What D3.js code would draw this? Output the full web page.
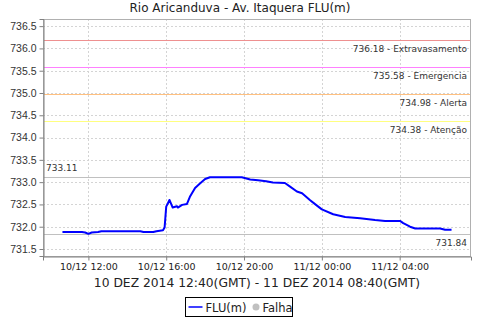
<!DOCTYPE html>
<html>
<head>
<meta charset="utf-8">
<script src="https://cdn.jsdelivr.net/npm/d3@7"></script>
<style>
  body { margin: 0; background: #fff; }
  svg { display: block; font-family: "DejaVu Sans", sans-serif; }
</style>
</head>
<body>
<div id="chart"></div>
<script>
const width = 480;
const height = 320;

// leituras (hora local, GMT-2)
const times = [
    "2014-12-10 10:40", "2014-12-10 11:40", "2014-12-10 11:50", "2014-12-10 12:00",
    "2014-12-10 12:10", "2014-12-10 12:30", "2014-12-10 12:40", "2014-12-10 14:40",
    "2014-12-10 14:50", "2014-12-10 15:20", "2014-12-10 15:30", "2014-12-10 15:50",
    "2014-12-10 15:55", "2014-12-10 16:00", "2014-12-10 16:05", "2014-12-10 16:10",
    "2014-12-10 16:20", "2014-12-10 16:33", "2014-12-10 16:36", "2014-12-10 16:49",
    "2014-12-10 17:04", "2014-12-10 17:13", "2014-12-10 17:29", "2014-12-10 17:44",
    "2014-12-10 18:00", "2014-12-10 18:15", "2014-12-10 19:53", "2014-12-10 20:19",
    "2014-12-10 20:43", "2014-12-10 21:08", "2014-12-10 21:29", "2014-12-10 22:06",
    "2014-12-10 22:22", "2014-12-10 22:43", "2014-12-10 22:59", "2014-12-10 23:23",
    "2014-12-10 23:42", "2014-12-11 00:00", "2014-12-11 00:35", "2014-12-11 01:12",
    "2014-12-11 01:58", "2014-12-11 02:44", "2014-12-11 03:15", "2014-12-11 04:01",
    "2014-12-11 04:11", "2014-12-11 04:32", "2014-12-11 04:48", "2014-12-11 06:05",
    "2014-12-11 06:20", "2014-12-11 06:40"
];
const levels = [
    731.88, 731.88, 731.87, 731.84,
    731.87, 731.88, 731.90, 731.90,
    731.88, 731.88, 731.90, 731.92,
    731.98, 732.45, 732.52, 732.60,
    732.43, 732.46, 732.43, 732.49,
    732.51, 732.67, 732.87, 732.97,
    733.07, 733.11, 733.11, 733.06,
    733.04, 733.02, 732.99, 732.98,
    732.90, 732.79, 732.75, 732.60,
    732.49, 732.39, 732.28, 732.22,
    732.19, 732.15, 732.13, 732.13,
    732.08, 732.00, 731.96, 731.96,
    731.93, 731.93
];

const alertValues = [736.18, 735.58, 734.98, 734.38];
const alertNames = ["Extravasamento", "Emergencia", "Alerta", "Atenção"];
const alertColors = ["#ee9090", "#ff80ff", "#ffc080", "#ffff80"];

const yTicks = [731.5, 732.0, 732.5, 733.0, 733.5, 734.0, 734.5, 735.0, 735.5, 736.0, 736.5];
const xTicks = ["2014-12-10 12:00", "2014-12-10 16:00", "2014-12-10 20:00", "2014-12-11 00:00", "2014-12-11 04:00"];

const title = "Rio Aricanduva - Av. Itaquera FLU(m)";
const xLabel = "10 DEZ 2014 12:40(GMT) - 11 DEZ 2014 08:40(GMT)";

const parse = d3.timeParse("%Y-%m-%d %H:%M");
const data = times.map((t, i) => ({ t: parse(t), v: levels[i] }));

const margin = { top: 19, right: 9, bottom: 64, left: 43 };
const x0 = margin.left, x1 = width - margin.right;
const y0 = height - margin.bottom, y1 = margin.top;

const svg = d3.select("#chart")
    .append("svg")
    .attr("width", width)
    .attr("height", height);

// 5% de margem em cada lado do eixo de tempo
const tStart = data[0].t, tEnd = data[data.length - 1].t;
const pad = (tEnd - tStart) * 0.05;
const x = d3.scaleTime()
    .domain([new Date(+tStart - pad), new Date(+tEnd + pad)])
    .range([x0, x1]);

const y = d3.scaleLinear()
    .domain([731.343, 736.66])
    .range([y0, y1]);

const maxV = d3.max(levels), minV = d3.min(levels);
const py = v => Math.round(y(v)) + 0.5;

// grade
svg.append("g")
    .selectAll("line")
    .data(yTicks)
    .join("line")
    .attr("x1", x0).attr("x2", x1)
    .attr("y1", py).attr("y2", py)
    .attr("stroke", "#d4d4d4")
    .attr("stroke-dasharray", "2,2");

svg.append("g")
    .selectAll("line")
    .data(xTicks.map(parse))
    .join("line")
    .attr("x1", d => Math.round(x(d)) + 0.5).attr("x2", d => Math.round(x(d)) + 0.5)
    .attr("y1", y1).attr("y2", y0)
    .attr("stroke", "#d4d4d4")
    .attr("stroke-dasharray", "2,2");

// linhas de referência
const refs = alertValues.map((v, i) => ({ v, label: `${v.toFixed(2)} - ${alertNames[i]}`, color: alertColors[i] }));

svg.append("g")
    .selectAll("line")
    .data(refs)
    .join("line")
    .attr("x1", x0).attr("x2", x1)
    .attr("y1", d => py(d.v)).attr("y2", d => py(d.v))
    .attr("stroke", d => d.color);

svg.append("g")
    .selectAll("text")
    .data(refs)
    .join("text")
    .attr("x", x1 - 4)
    .attr("y", d => y(d.v) + 12)
    .attr("text-anchor", "end")
    .attr("font-size", 9)
    .attr("fill", "#333")
    .text(d => d.label);

// máximo e mínimo
[maxV, minV].forEach(v => {
    svg.append("line")
        .attr("x1", x0).attr("x2", x1)
        .attr("y1", py(v)).attr("y2", py(v))
        .attr("stroke", "#c0c0c0");
});
svg.append("text")
    .attr("x", x0 + 3)
    .attr("y", y(maxV) - 6)
    .attr("font-size", 9)
    .attr("fill", "#333")
    .text(maxV.toFixed(2));
svg.append("text")
    .attr("x", x1 - 4)
    .attr("y", y(minV) + 12)
    .attr("text-anchor", "end")
    .attr("font-size", 9)
    .attr("fill", "#333")
    .text(minV.toFixed(2));

// borda
svg.append("rect")
    .attr("x", x0 + 0.5).attr("y", y1 + 0.5)
    .attr("width", x1 - x0 - 1).attr("height", y0 - y1)
    .attr("fill", "none")
    .attr("stroke", "#b0b0b0");

// série
const line = d3.line()
    .x(d => x(d.t))
    .y(d => y(d.v));

svg.append("path")
    .datum(data)
    .attr("fill", "none")
    .attr("stroke", "#0000ff")
    .attr("stroke-width", 2)
    .attr("stroke-linejoin", "round")
    .attr("d", line);

// eixos
const yAxis = svg.append("g")
    .attr("transform", `translate(${x0 + 0.5},0)`)
    .call(d3.axisLeft(y).tickValues(yTicks).tickFormat(d3.format(".1f")).tickSize(4).tickPadding(3));
yAxis.select(".domain").attr("stroke", "#808080");
yAxis.selectAll(".tick line").attr("stroke", "#808080");
yAxis.selectAll("text").attr("font-size", 10.5).attr("fill", "#333").attr("font-family", "Liberation Sans");

const xAxis = svg.append("g")
    .attr("transform", `translate(0,${y0 + 0.5})`)
    .call(d3.axisBottom(x).tickValues(xTicks.map(parse)).tickFormat(d3.timeFormat("%d/%m %H:%M")).tickSize(4).tickPadding(3));
xAxis.select(".domain").attr("stroke", "#808080");
xAxis.selectAll(".tick line").attr("stroke", "#808080");
xAxis.selectAll("text").attr("font-size", 9.5).attr("fill", "#222").attr("font-family", "DejaVu Sans");

// títulos
svg.append("text")
    .attr("x", width / 2)
    .attr("y", 12)
    .attr("text-anchor", "middle")
    .attr("font-size", 12)
    .attr("fill", "#222")
    .text(title);

svg.append("text")
    .attr("x", (x0 + x1) / 2)
    .attr("y", 287)
    .attr("text-anchor", "middle")
    .attr("font-size", 12.3)
    .attr("fill", "#222")
    .text(xLabel);

// legenda
const legend = svg.append("g").attr("transform", "translate(185.5,297.5)");
legend.append("rect")
    .attr("width", 107).attr("height", 19)
    .attr("fill", "#fff").attr("stroke", "#000");
legend.append("line")
    .attr("x1", 3).attr("x2", 17).attr("y1", 9.5).attr("y2", 9.5)
    .attr("stroke", "#0000ff").attr("stroke-width", 1.5);
legend.append("text")
    .attr("x", 20).attr("y", 14)
    .attr("font-size", 11.5).attr("fill", "#222")
    .text("FLU(m)");
legend.append("circle")
    .attr("cx", 70.5).attr("cy", 9.5).attr("r", 3.5)
    .attr("fill", "#c0c0c0");
legend.append("text")
    .attr("x", 77).attr("y", 14)
    .attr("font-size", 11.5).attr("fill", "#222")
    .text("Falha");
</script>
</body>
</html>
